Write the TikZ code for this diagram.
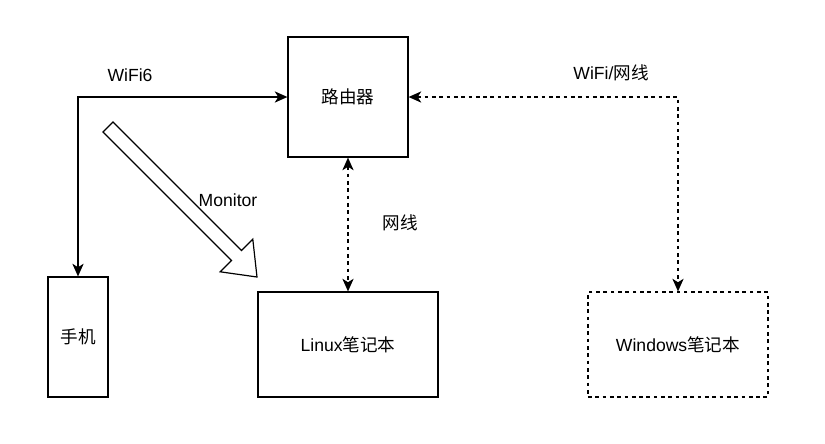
\documentclass[tikz,border=0pt]{standalone}
\usepackage{fontspec}
\setmainfont{Liberation Sans}
\newfontfamily\cjk{Noto Sans CJK SC}
\usetikzlibrary{arrows.meta}
\begin{document}
\begin{tikzpicture}[x=0.025cm, y=-0.025cm, >={Stealth[length=9pt,width=8pt,inset=2.5pt]},
    line width=0.85pt, font=\fontsize{12.5}{14}\selectfont]
\useasboundingbox (0,0) rectangle (825,443);
        \node(router)[draw, rectangle, minimum width=3cm, minimum height=3cm] at (348,97){\cjk 路由器};
        \node(phone)[draw, rectangle, minimum width=1.5cm, minimum height=3cm] at (78,337){\cjk 手机};
        \node(linux)[draw, rectangle, minimum width=4.5cm, minimum height=2.625cm] at (348,344.5){Linux{\cjk 笔记本}};
        \node(win)[draw, rectangle, dash pattern=on 2.6pt off 2.6pt, minimum width=4.5cm, minimum height=2.625cm] at (678,344.5){Windows{\cjk 笔记本}};
        \node(wifi)at (130,75){WiFi6};
        \node(mon)at (228,200){Monitor};
        \node(cable)at (400,223){\cjk 网线};
        \node(both)at (611,73){WiFi/{\cjk 网线}};
\draw[<->](phone.north) |- (router.west);
\draw[<->, dash pattern=on 2.6pt off 2.6pt](router.south)--(linux.north);
\draw[<->, dash pattern=on 2.6pt off 2.6pt](router.east) -| (win.north);
% hollow arrow
\draw[fill=white] (113,122) -- (241.5,250.5) -- (252.8,239.2) -- (257,277) -- (220.2,271.8) -- (231.5,260.5) -- (103,132) -- cycle;
    \end{tikzpicture}
\end{document}
